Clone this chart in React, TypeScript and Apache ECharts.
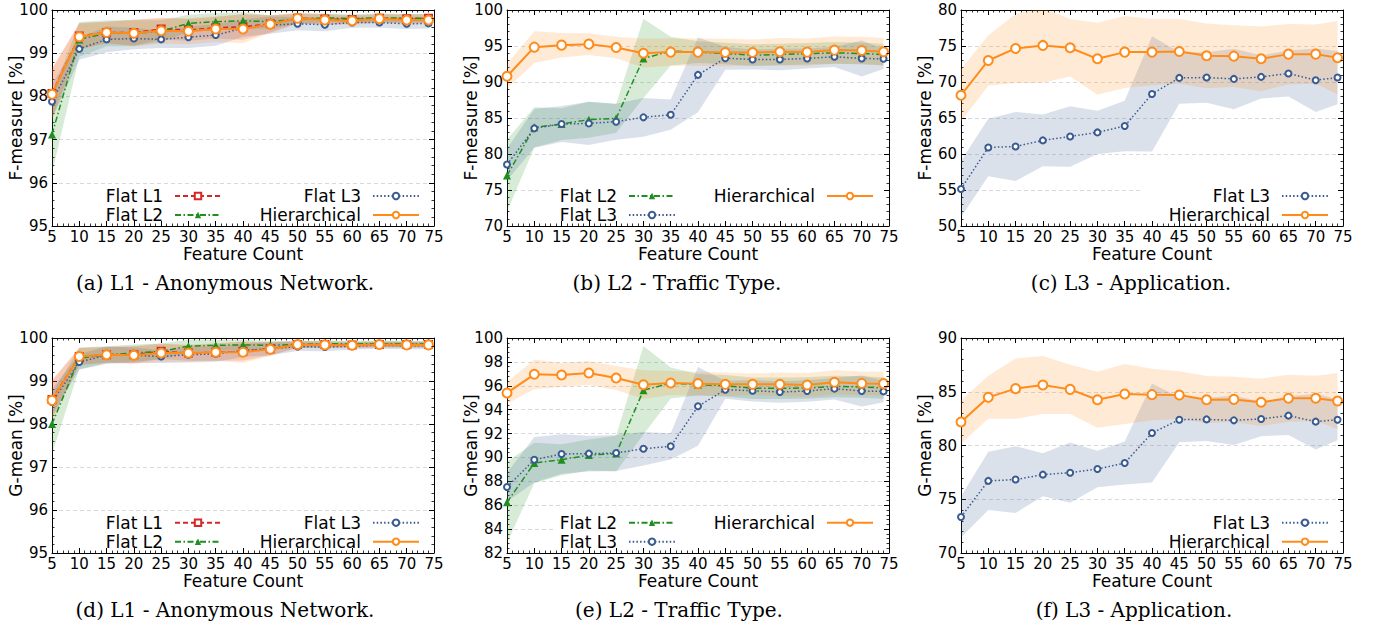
import React, { useEffect, useRef } from 'react';
import * as echarts from 'echarts';

// ---------------- data ----------------
const featureCounts = [5, 10, 15, 20, 25, 30, 35, 40, 45, 50, 55, 60, 65, 70, 74];

// (a) F-measure, L1
const fmL1FlatL1 = [98.07, 99.4, 99.48, 99.48, 99.56, 99.54, 99.59, 99.61, 99.68, 99.81, 99.79, 99.78, 99.81, 99.8, 99.81];
const fmL1FlatL1Sd = [0.55, 0.3, 0.25, 0.3, 0.25, 0.25, 0.25, 0.3, 0.2, 0.12, 0.12, 0.1, 0.1, 0.1, 0.1];
const fmL1FlatL2 = [97.12, 99.32, 99.46, 99.46, 99.51, 99.69, 99.73, 99.75, 99.73, 99.79, 99.82, 99.8, 99.82, 99.81, 99.81];
const fmL1FlatL2Sd = [0.9, 0.4, 0.3, 0.3, 0.25, 0.2, 0.2, 0.2, 0.15, 0.12, 0.1, 0.1, 0.1, 0.1, 0.1];
const fmL1FlatL3 = [97.88, 99.1, 99.32, 99.34, 99.32, 99.37, 99.42, 99.58, 99.65, 99.68, 99.66, 99.71, 99.71, 99.68, 99.69];
const fmL1FlatL3Sd = [0.4, 0.25, 0.3, 0.25, 0.2, 0.25, 0.25, 0.2, 0.2, 0.15, 0.15, 0.12, 0.12, 0.12, 0.12];
const fmL1Hier = [98.05, 99.38, 99.48, 99.46, 99.52, 99.51, 99.56, 99.56, 99.67, 99.81, 99.77, 99.75, 99.8, 99.77, 99.77];
const fmL1HierSd = [0.6, 0.3, 0.25, 0.3, 0.3, 0.3, 0.3, 0.33, 0.2, 0.12, 0.12, 0.1, 0.1, 0.1, 0.1];

// (b) F-measure, L2
const fmL2FlatL2 = [77.0, 83.7, 84.16, 84.77, 84.95, 93.27, 94.29, 94.15, 93.96, 93.73, 93.82, 93.92, 94.05, 93.96, 93.82];
const fmL2FlatL2Sd = [5.0, 2.8, 2.2, 2.5, 2.0, 5.5, 2.0, 1.5, 1.5, 1.5, 1.5, 1.5, 1.5, 1.5, 1.5];
const fmL2FlatL3 = [78.54, 83.56, 84.16, 84.25, 84.49, 85.09, 85.46, 90.99, 93.31, 93.13, 93.13, 93.27, 93.5, 93.27, 93.22];
const fmL2FlatL3Sd = [2.2, 2.7, 2.5, 3.0, 2.5, 2.7, 2.1, 5.2, 1.6, 1.4, 1.5, 1.4, 1.4, 2.5, 1.4];
const fmL2Hier = [90.8, 94.84, 95.12, 95.26, 94.8, 94.0, 94.15, 94.15, 94.1, 94.1, 94.2, 94.15, 94.43, 94.38, 94.2];
const fmL2HierSd = [1.7, 2.2, 1.7, 1.5, 1.5, 2.0, 1.9, 1.9, 1.9, 1.8, 1.9, 1.9, 1.9, 1.9, 1.9];

// (c) F-measure, L3
const fmL3FlatL3 = [55.15, 60.91, 61.05, 61.89, 62.44, 63.0, 63.88, 68.34, 70.57, 70.62, 70.43, 70.71, 71.18, 70.25, 70.62];
const fmL3FlatL3Sd = [3.9, 4.0, 4.8, 3.6, 4.2, 3.0, 3.5, 8.0, 3.6, 3.5, 4.2, 3.0, 3.2, 4.4, 3.7];
const fmL3Hier = [68.16, 72.99, 74.66, 75.08, 74.75, 73.22, 74.15, 74.15, 74.24, 73.64, 73.59, 73.22, 73.87, 73.87, 73.36];
const fmL3HierSd = [3.6, 3.5, 4.8, 5.2, 4.0, 5.0, 5.0, 4.6, 4.5, 4.5, 4.3, 4.5, 4.2, 4.1, 5.1];

// (d) G-mean, L1
const gmL1FlatL1 = [98.57, 99.57, 99.61, 99.61, 99.69, 99.65, 99.67, 99.69, 99.75, 99.85, 99.85, 99.84, 99.85, 99.85, 99.85];
const gmL1FlatL1Sd = [0.45, 0.2, 0.18, 0.2, 0.18, 0.18, 0.2, 0.22, 0.15, 0.08, 0.08, 0.07, 0.07, 0.07, 0.07];
const gmL1FlatL2 = [98.0, 99.53, 99.61, 99.65, 99.69, 99.81, 99.83, 99.84, 99.83, 99.85, 99.87, 99.86, 99.87, 99.86, 99.86];
const gmL1FlatL2Sd = [0.7, 0.25, 0.2, 0.2, 0.18, 0.15, 0.13, 0.12, 0.1, 0.08, 0.07, 0.07, 0.07, 0.07, 0.07];
const gmL1FlatL3 = [98.51, 99.44, 99.6, 99.6, 99.57, 99.61, 99.63, 99.71, 99.75, 99.8, 99.79, 99.81, 99.83, 99.82, 99.82];
const gmL1FlatL3Sd = [0.3, 0.18, 0.2, 0.18, 0.15, 0.18, 0.18, 0.15, 0.15, 0.1, 0.1, 0.08, 0.08, 0.08, 0.08];
const gmL1Hier = [98.55, 99.57, 99.61, 99.6, 99.65, 99.65, 99.67, 99.67, 99.74, 99.85, 99.84, 99.83, 99.85, 99.84, 99.84];
const gmL1HierSd = [0.45, 0.2, 0.18, 0.2, 0.2, 0.2, 0.2, 0.25, 0.15, 0.08, 0.08, 0.07, 0.07, 0.07, 0.07];

// (e) G-mean, L2
const gmL2FlatL2 = [86.24, 89.53, 89.81, 90.2, 90.32, 95.62, 96.23, 96.09, 96.01, 95.79, 95.79, 95.81, 95.95, 95.9, 95.81];
const gmL2FlatL2Sd = [3.4, 1.7, 1.3, 1.3, 1.5, 3.7, 1.3, 0.9, 0.9, 0.9, 0.9, 0.9, 0.9, 0.9, 0.9];
const gmL2FlatL3 = [87.52, 89.81, 90.29, 90.32, 90.37, 90.73, 90.93, 94.28, 95.67, 95.59, 95.48, 95.56, 95.76, 95.56, 95.53];
const gmL2FlatL3Sd = [1.2, 1.9, 1.65, 1.5, 1.5, 1.4, 1.1, 3.3, 0.75, 0.9, 0.9, 0.9, 0.9, 1.3, 0.9];
const gmL2Hier = [95.4, 96.96, 96.9, 97.07, 96.65, 96.09, 96.23, 96.18, 96.12, 96.12, 96.12, 96.06, 96.29, 96.2, 96.18];
const gmL2HierSd = [0.9, 1.25, 1.0, 1.0, 1.0, 1.2, 1.0, 1.0, 1.0, 0.9, 1.0, 1.0, 1.0, 1.0, 1.0];

// (f) G-mean, L3
const gmL3FlatL3 = [73.35, 76.71, 76.83, 77.29, 77.47, 77.81, 78.37, 81.16, 82.4, 82.43, 82.34, 82.47, 82.78, 82.22, 82.4];
const gmL3FlatL3Sd = [1.9, 2.7, 3.1, 2.0, 2.8, 1.7, 2.0, 4.6, 2.1, 2.0, 2.3, 1.6, 1.8, 2.6, 1.9];
const gmL3Hier = [82.19, 84.48, 85.29, 85.63, 85.22, 84.26, 84.79, 84.73, 84.7, 84.26, 84.29, 84.02, 84.39, 84.39, 84.14];
const gmL3HierSd = [2.0, 2.0, 2.8, 2.7, 2.3, 2.6, 2.8, 2.4, 2.2, 2.2, 2.1, 2.2, 2.2, 2.1, 2.6];

const xAxisName = 'Feature Count';
const captions = [
  '(a) L1 - Anonymous Network.',
  '(b) L2 - Traffic Type.',
  '(c) L3 - Application.',
  '(d) L1 - Anonymous Network.',
  '(e) L2 - Traffic Type.',
  '(f) L3 - Application.',
];

// ---------------- styles ----------------
const SANS = '"DejaVu Sans", sans-serif';
const SERIF = '"DejaVu Serif", serif';

const methodStyle: Record<string, any> = {
  'Flat L1': { color: '#d62728', dash: [5, 3], symbol: 'emptyRect', size: 7, width: 1.5 },
  'Flat L2': { color: '#1f8f1f', dash: [6, 2.5, 1.5, 2.5], symbol: 'triangle', size: 8, width: 1.5 },
  'Flat L3': { color: '#3a5b92', dash: [1.5, 2.2], symbol: 'emptyCircle', size: 6, width: 1.5 },
  Hierarchical: { color: '#ff8c1a', dash: 'solid', symbol: 'emptyCircle', size: 9, width: 2 },
};

function rgba(hex: string, a: number) {
  const n = parseInt(hex.slice(1), 16);
  return `rgba(${(n >> 16) & 255},${(n >> 8) & 255},${n & 255},${a})`;
}

type S = { name: string; mean: number[]; sd: number[] };
type Lg = { names: string[]; iconRight: number; rowY: number; padLeft: number; padRight: number };
type Panel = {
  left: number; top: number; width: number; height: number;
  yMin: number; yMax: number; yInterval: number; yName: string;
  caption: string; capX: number; capY: number;
  series: S[]; legends: Lg[];
};

const ROW1 = 196, ROW2 = 522.7;

const panels: Panel[] = [
  {
    left: 52, top: 10, width: 382, height: 216, yMin: 95, yMax: 100, yInterval: 1, yName: 'F-measure [%]',
    caption: captions[0], capX: 225, capY: 283,
    series: [
      { name: 'Flat L1', mean: fmL1FlatL1, sd: fmL1FlatL1Sd },
      { name: 'Flat L2', mean: fmL1FlatL2, sd: fmL1FlatL2Sd },
      { name: 'Flat L3', mean: fmL1FlatL3, sd: fmL1FlatL3Sd },
      { name: 'Hierarchical', mean: fmL1Hier, sd: fmL1HierSd },
    ],
    legends: [
      { names: ['Flat L1', 'Flat L2'], iconRight: 222, rowY: ROW1, padLeft: 6, padRight: 38 },
      { names: ['Flat L3', 'Hierarchical'], iconRight: 420, rowY: ROW1, padLeft: 6, padRight: 8 },
    ],
  },
  {
    left: 507, top: 10, width: 382, height: 216, yMin: 70, yMax: 100, yInterval: 5, yName: 'F-measure [%]',
    caption: captions[1], capX: 677, capY: 283,
    series: [
      { name: 'Flat L2', mean: fmL2FlatL2, sd: fmL2FlatL2Sd },
      { name: 'Flat L3', mean: fmL2FlatL3, sd: fmL2FlatL3Sd },
      { name: 'Hierarchical', mean: fmL2Hier, sd: fmL2HierSd },
    ],
    legends: [
      { names: ['Flat L2', 'Flat L3'], iconRight: 676, rowY: ROW1, padLeft: 6, padRight: 38 },
      { names: ['Hierarchical'], iconRight: 874, rowY: ROW1, padLeft: 6, padRight: 8 },
    ],
  },
  {
    left: 961, top: 10, width: 382, height: 216, yMin: 50, yMax: 80, yInterval: 5, yName: 'F-measure [%]',
    caption: captions[2], capX: 1131, capY: 283,
    series: [
      { name: 'Flat L3', mean: fmL3FlatL3, sd: fmL3FlatL3Sd },
      { name: 'Hierarchical', mean: fmL3Hier, sd: fmL3HierSd },
    ],
    legends: [
      { names: ['Flat L3', 'Hierarchical'], iconRight: 1329, rowY: ROW1, padLeft: 28, padRight: 8 },
    ],
  },
  {
    left: 52, top: 338, width: 382, height: 215, yMin: 95, yMax: 100, yInterval: 1, yName: 'G-mean [%]',
    caption: captions[3], capX: 225, capY: 610,
    series: [
      { name: 'Flat L1', mean: gmL1FlatL1, sd: gmL1FlatL1Sd },
      { name: 'Flat L2', mean: gmL1FlatL2, sd: gmL1FlatL2Sd },
      { name: 'Flat L3', mean: gmL1FlatL3, sd: gmL1FlatL3Sd },
      { name: 'Hierarchical', mean: gmL1Hier, sd: gmL1HierSd },
    ],
    legends: [
      { names: ['Flat L1', 'Flat L2'], iconRight: 222, rowY: ROW2, padLeft: 6, padRight: 38 },
      { names: ['Flat L3', 'Hierarchical'], iconRight: 420, rowY: ROW2, padLeft: 6, padRight: 8 },
    ],
  },
  {
    left: 507, top: 338, width: 382, height: 215, yMin: 82, yMax: 100, yInterval: 2, yName: 'G-mean [%]',
    caption: captions[4], capX: 679, capY: 610,
    series: [
      { name: 'Flat L2', mean: gmL2FlatL2, sd: gmL2FlatL2Sd },
      { name: 'Flat L3', mean: gmL2FlatL3, sd: gmL2FlatL3Sd },
      { name: 'Hierarchical', mean: gmL2Hier, sd: gmL2HierSd },
    ],
    legends: [
      { names: ['Flat L2', 'Flat L3'], iconRight: 676, rowY: ROW2, padLeft: 6, padRight: 38 },
      { names: ['Hierarchical'], iconRight: 874, rowY: ROW2, padLeft: 6, padRight: 8 },
    ],
  },
  {
    left: 961, top: 338, width: 382, height: 215, yMin: 70, yMax: 90, yInterval: 5, yName: 'G-mean [%]',
    caption: captions[5], capX: 1134, capY: 610,
    series: [
      { name: 'Flat L3', mean: gmL3FlatL3, sd: gmL3FlatL3Sd },
      { name: 'Hierarchical', mean: gmL3Hier, sd: gmL3HierSd },
    ],
    legends: [
      { names: ['Flat L3', 'Hierarchical'], iconRight: 1329, rowY: ROW2, padLeft: 28, padRight: 8 },
    ],
  },
];

function buildOption() {
  const grid: any[] = [];
  const xAxis: any[] = [];
  const yAxis: any[] = [];
  const series: any[] = [];
  const legend: any[] = [];
  const graphic: any[] = [];

  const line = { show: true, onZero: false, lineStyle: { color: '#000', width: 1 } };
  const tick = { show: true, inside: true, length: 5, lineStyle: { color: '#000', width: 1 } };
  const minor = { show: true, splitNumber: 5, length: 2.5, lineStyle: { color: '#000', width: 0.8 } };

  panels.forEach((p, i) => {
    grid.push({ left: p.left, top: p.top, width: p.width, height: p.height, containLabel: false, outerBoundsMode: 'none' });
    const xBase = { type: 'value', gridIndex: i, min: 5, max: 75, interval: 5, axisLine: line, axisTick: tick, minorTick: minor, splitLine: { show: false } };
    xAxis.push({
      ...xBase, position: 'bottom', z: 10,
      axisLabel: { show: true, fontSize: 15, lineHeight: 14, color: '#000', fontFamily: SANS, margin: 4 },
      name: xAxisName, nameLocation: 'middle', nameGap: 20, nameMoveOverlap: false,
      nameTextStyle: { fontSize: 17, lineHeight: 16, color: '#000', fontFamily: SANS },
    });
    xAxis.push({ ...xBase, position: 'top', axisLabel: { show: false } });
    const yBase = { type: 'value', gridIndex: i, min: p.yMin, max: p.yMax, interval: p.yInterval, axisLine: line, axisTick: tick, minorTick: minor };
    yAxis.push({
      ...yBase, position: 'left',
      axisLabel: { show: true, fontSize: 15, color: '#000', fontFamily: SANS, margin: 4 },
      splitLine: { show: true, lineStyle: { color: '#d9d9d9', width: 1, type: [4, 3] } },
      name: p.yName, nameLocation: 'middle', nameGap: 28, nameMoveOverlap: false,
      nameTextStyle: { fontSize: 17, color: '#000', fontFamily: SANS },
    });
    yAxis.push({ ...yBase, position: 'right', z: 10, axisLabel: { show: false }, splitLine: { show: false } });

    const xi = 2 * i;
    const yi = 2 * i;

    // bands (mean ± sd)
    p.series.forEach((s, k) => {
      const st = methodStyle[s.name];
      const rows = featureCounts.map((x, j) => [x, s.mean[j] - s.sd[j], s.mean[j] + s.sd[j]]);
      series.push({
        type: 'custom',
        name: `band-${i}-${k}`,
        xAxisIndex: xi,
        yAxisIndex: yi,
        data: rows,
        encode: { x: 0, y: [1, 2] },
        clip: true,
        silent: true,
        z: 1,
        renderItem: (params: any, api: any) => {
          if (params.dataIndex !== 0) return null;
          const upper = rows.map((r) => api.coord([r[0], r[2]]));
          const lower = rows.map((r) => api.coord([r[0], r[1]])).reverse();
          return {
            type: 'polygon',
            shape: { points: upper.concat(lower) },
            style: { fill: rgba(st.color, 0.18), stroke: 'none' },
            silent: true,
          };
        },
      });
    });

    // mean lines
    p.series.forEach((s) => {
      const st = methodStyle[s.name];
      series.push({
        type: 'line',
        name: s.name,
        xAxisIndex: xi,
        yAxisIndex: yi,
        data: featureCounts.map((x, j) => [x, s.mean[j]]),
        symbol: st.symbol,
        symbolSize: st.size,
        showAllSymbol: true,
        itemStyle: { color: st.color },
        lineStyle: { color: st.color, width: st.width, type: st.dash },
        z: 3,
      });
    });

    p.legends.forEach((lg) => {
      legend.push({
        orient: 'vertical',
        align: 'right',
        selectedMode: false,
        data: lg.names,
        right: 1377 - lg.iconRight - lg.padRight,
        top: lg.rowY - 9.5 - 2,
        padding: [2, lg.padRight, 0, lg.padLeft],
        backgroundColor: '#fff',
        itemWidth: 46,
        itemHeight: 8,
        itemGap: 0,
        z: 4,
        textStyle: { fontSize: 17, lineHeight: 19, color: '#000', fontFamily: SANS, padding: [0, 7, 0, 0] },
      });
    });

    graphic.push({
      type: 'text',
      x: p.capX,
      y: p.capY,
      style: {
        text: p.caption,
        font: `20px ${SERIF}`,
        fill: '#000',
        align: 'center',
        verticalAlign: 'middle',
      },
    });
  });

  return { animation: false, backgroundColor: '#fff', grid, xAxis, yAxis, series, legend, graphic };
}

export default function App() {
  const ref = useRef<HTMLDivElement>(null);
  useEffect(() => {
    if (!ref.current) return;
    const chart = echarts.init(ref.current, null, { renderer: 'svg' });
    chart.setOption(buildOption() as any);
    return () => chart.dispose();
  }, []);
  return (
    <div
      ref={ref}
      style={{ position: 'absolute', left: 0, top: 0, width: 1377, height: 628, background: '#fff' }}
    />
  );
}
